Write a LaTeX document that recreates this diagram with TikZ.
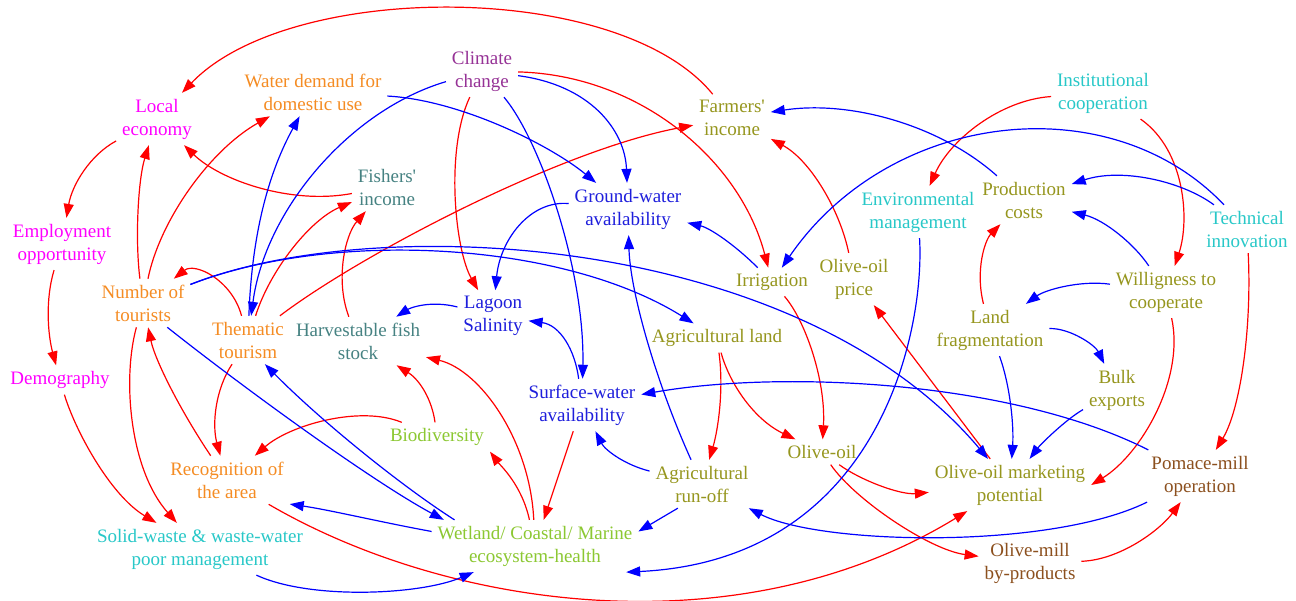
\documentclass[tikz,border=0pt]{standalone}
\usepackage{fontspec}
\setmainfont{Liberation Serif}
\usetikzlibrary{arrows.meta}
\definecolor{cMag}{RGB}{255,0,255}
\definecolor{cOra}{RGB}{245,140,35}
\definecolor{cPur}{RGB}{150,50,150}
\definecolor{cOli}{RGB}{150,150,30}
\definecolor{cCya}{RGB}{40,200,200}
\definecolor{cTea}{RGB}{70,130,130}
\definecolor{cBlu}{RGB}{30,30,220}
\definecolor{cGre}{RGB}{140,200,50}
\definecolor{cBro}{RGB}{140,80,30}
\begin{document}
\begin{tikzpicture}[x=0.5pt,y=-0.5pt,
  lbl/.style={align=center,font=\fontsize{9.5}{11.5}\selectfont,inner sep=3pt,outer sep=0pt},
  mag/.style={lbl,text=cMag},
  ora/.style={lbl,text=cOra},
  pur/.style={lbl,text=cPur},
  oli/.style={lbl,text=cOli},
  cya/.style={lbl,text=cCya},
  tea/.style={lbl,text=cTea},
  blu/.style={lbl,text=cBlu},
  gre/.style={lbl,text=cGre},
  bro/.style={lbl,text=cBro},
  posarr/.style={draw=red,line width=0.6pt,-{Triangle[length=7pt,width=5pt]}},
  negarr/.style={draw=blue,line width=0.6pt,-{Triangle[length=7pt,width=5pt]}}]
\fill[white] (0,0) rectangle (1296,600);
\useasboundingbox (0,0) rectangle (1296,600);
% nodes
\node[mag] (local) at (157,119) {Local\\economy};
\node[ora] (water) at (313,92) {Water demand for\\domestic use};
\node[pur] (climate) at (482,71) {Climate\\change};
\node[oli] (farm) at (732,118) {Farmers\textquotesingle\\income};
\node[cya] (inst) at (1103,93) {Institutional\\cooperation};
\node[tea] (fishinc) at (387,187) {Fishers\textquotesingle\\income};
\node[blu] (ground) at (628,209) {Ground-water\\availability};
\node[cya] (env) at (918,212) {Environmental\\management};
\node[oli] (prod) at (1024,200) {Production\\costs};
\node[cya] (tech) at (1247,229) {Technical\\innovation};
\node[mag] (employ) at (62,244) {Employment\\opportunity};
\node[ora] (tourists) at (143,303) {Number of\\tourists};
\node[ora] (thematic) at (248,340) {Thematic\\tourism};
\node[tea] (fish) at (358,341) {Harvestable fish\\stock};
\node[blu] (lagoon) at (493,316) {Lagoon\\Salinity};
\node[oli] (irrig) at (772,282) {Irrigation};
\node[oli] (price) at (854,279) {Olive-oil\\price};
\node[oli] (will) at (1166,292) {Willigness to\\cooperate};
\node[oli] (landfrag) at (990,330) {Land\\fragmentation};
\node[oli] (agland) at (717,338) {Agricultural land};
\node[oli] (bulk) at (1117,390) {Bulk\\exports};
\node[mag] (demo) at (60,380) {Demography};
\node[blu] (surface) at (582,405) {Surface-water\\availability};
\node[gre] (bio) at (437,437) {Biodiversity};
\node[oli] (oliveoil) at (822,452) {Olive-oil};
\node[ora] (recog) at (227,480) {Recognition of\\the area};
\node[oli] (runoff) at (702,484) {Agricultural\\run-off};
\node[oli] (market) at (1010,485) {Olive-oil marketing\\potential};
\node[bro] (pomace) at (1200,476) {Pomace-mill\\operation};
\node[cya] (solid) at (200,549) {Solid-waste \& waste-water\\poor management};
\node[gre] (wetland) at (535,546) {Wetland/ Coastal/ Marine\\ecosystem-health};
\node[bro] (byprod) at (1030,563) {Olive-mill\\by-products};
% positive links
\draw[posarr] (farm) .. controls (620,-20) and (290,-20) .. (local);
\draw[posarr] (local) .. controls (90,155) and (72,185) .. (employ);
\draw[posarr] (employ) .. controls (45,300) and (48,335) .. (demo);
\draw[posarr] (demo) .. controls (75,430) and (110,495) .. (solid);
\draw[posarr] (tourists) .. controls (122,380) and (130,470) .. (solid);
\draw[posarr] (tourists) .. controls (135,240) and (138,180) .. (local);
\draw[posarr] (tourists) .. controls (160,220) and (210,150) .. (water);
\draw[posarr] (fishinc) .. controls (290,205) and (220,180) .. (local);
\draw[posarr] (thematic) .. controls (232,280) and (195,262) .. (tourists);
\draw[posarr] (thematic) .. controls (270,270) and (310,220) .. (fishinc);
\draw[posarr] (thematic) .. controls (360,255) and (560,150) .. (farm);
\draw[posarr] (fish) .. controls (335,280) and (345,235) .. (fishinc);
\draw[posarr] (climate) .. controls (445,150) and (455,250) .. (lagoon);
\draw[posarr] (climate) .. controls (640,75) and (740,160) .. (irrig);
\draw[posarr] (price) .. controls (840,210) and (810,160) .. (farm);
\draw[posarr] (inst) .. controls (1000,100) and (950,140) .. (env);
\draw[posarr] (inst) .. controls (1185,150) and (1190,220) .. (will);
\draw[posarr] (tech) .. controls (1252,330) and (1240,410) .. (pomace);
\draw[posarr] (will) .. controls (1185,380) and (1140,455) .. (market.east);
\draw[posarr] (landfrag) .. controls (975,270) and (985,240) .. (prod);
\draw[posarr] (market) -- (price);
\draw[posarr] (irrig) .. controls (805,320) and (826,380) .. (oliveoil);
\draw[posarr] (agland) .. controls (724,390) and (718,430) .. (runoff);
\draw[posarr] (agland) .. controls (730,385) and (755,420) .. (oliveoil);
\draw[posarr] (oliveoil) .. controls (860,480) and (900,495) .. (market);
\draw[posarr] (oliveoil) .. controls (855,500) and (930,550) .. (byprod);
\draw[posarr] (byprod) .. controls (1120,560) and (1160,530) .. (pomace);
\draw[posarr] (recog) .. controls (450,610) and (740,650) .. (market);
\draw[posarr] (recog) .. controls (180,410) and (155,360) .. (tourists);
\draw[posarr] (thematic) .. controls (215,390) and (212,425) .. (recog);
\draw[posarr] (bio) .. controls (360,405) and (290,425) .. (recog);
\draw[posarr] (bio) .. controls (432,400) and (420,380) .. (fish);
\draw[posarr] (wetland) .. controls (522,485) and (500,465) .. (bio.south east);
\draw[posarr] (wetland) .. controls (530,440) and (480,370) .. (fish);
\draw[posarr] (surface) -- (wetland);
% negative links
\draw[negarr] (water) .. controls (460,100) and (550,145) .. (ground);
\draw[negarr] (thematic) .. controls (252,230) and (270,170) .. (water);
\draw[negarr] (climate) .. controls (590,85) and (625,130) .. (ground);
\draw[negarr] (climate) .. controls (540,140) and (585,270) .. (surface);
\draw[negarr] (ground) .. controls (530,200) and (500,240) .. (lagoon);
\draw[negarr] (lagoon) .. controls (430,300) and (410,308) .. (fish);
\draw[negarr] (surface) .. controls (575,350) and (560,325) .. (lagoon);
\draw[negarr] (runoff) .. controls (655,380) and (630,290) .. (ground);
\draw[negarr] (irrig) .. controls (735,245) and (710,228) .. (ground);
\draw[negarr] (tech) .. controls (1110,85) and (890,110) .. (irrig);
\draw[negarr] (tech) .. controls (1180,180) and (1120,168) .. (prod);
\draw[negarr] (prod) .. controls (940,125) and (850,100) .. (farm);
\draw[negarr] (will) .. controls (1135,245) and (1105,220) .. (prod);
\draw[negarr] (will) .. controls (1080,280) and (1045,290) .. (landfrag);
\draw[negarr] (landfrag) .. controls (1070,328) and (1095,345) .. (bulk);
\draw[negarr] (landfrag) .. controls (1010,385) and (1014,425) .. (market);
\draw[negarr] (bulk) .. controls (1065,420) and (1040,445) .. (market);
\draw[negarr] (tourists) .. controls (380,210) and (800,235) .. (market);
\draw[negarr] (tourists) .. controls (330,230) and (560,240) .. (agland);
\draw[negarr] (pomace) .. controls (1010,380) and (780,370) .. (surface);
\draw[negarr] (pomace) .. controls (1050,550) and (820,545) .. (runoff);
\draw[negarr] (env) .. controls (925,330) and (880,560) .. (wetland.-16);
\draw[negarr] (runoff) .. controls (625,465) and (605,450) .. (surface);
\draw[negarr] (runoff.-135) -- (wetland.8);
\draw[negarr] (wetland.172) .. controls (380,522) and (330,510) .. (recog.-21);
\draw[negarr] (wetland.162) .. controls (400,485) and (320,420) .. (thematic.-55);
\draw[negarr] (tourists.-45) .. controls (240,385) and (370,480) .. (wetland.164);
\draw[negarr] (solid) .. controls (310,600) and (420,595) .. (wetland);
\draw[negarr] (climate) .. controls (350,110) and (265,210) .. (thematic);
\end{tikzpicture}
\end{document}
